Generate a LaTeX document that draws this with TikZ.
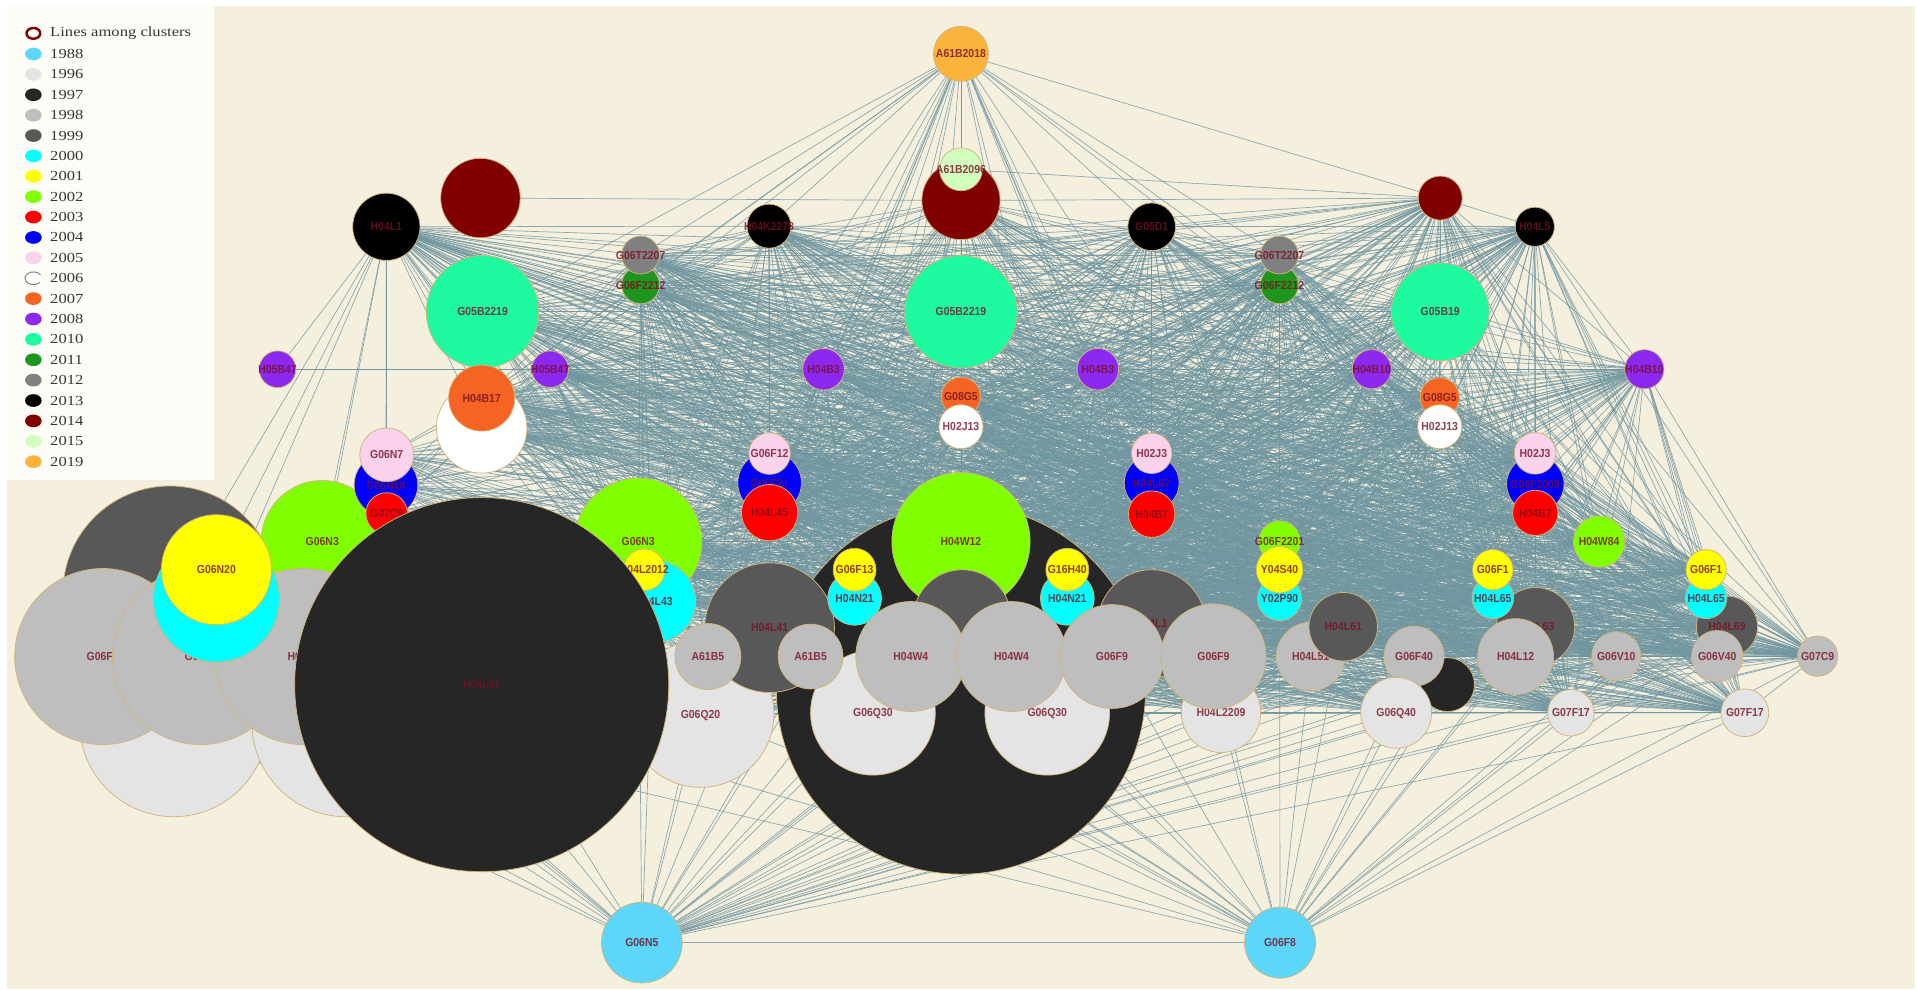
\documentclass[tikz,border=0pt]{standalone}
\usepackage{fontspec}
\setmainfont{Liberation Serif}
\newfontfamily\labfont[FakeStretch=0.9]{Liberation Sans}
\newfontfamily\legfont[FakeStretch=1.2]{Liberation Serif}

\pgfdeclarelayer{back}
\pgfdeclarelayer{edges}
\pgfsetlayers{back,edges,main}

% year colours
\definecolor{c1988}{RGB}{92,214,250}
\definecolor{c1996}{RGB}{228,228,228}
\definecolor{c1997}{RGB}{38,38,38}
\definecolor{c1998}{RGB}{190,190,190}
\definecolor{c1999}{RGB}{88,88,88}
\definecolor{c2000}{RGB}{0,255,255}
\definecolor{c2001}{RGB}{255,255,0}
\definecolor{c2002}{RGB}{128,255,0}
\definecolor{c2003}{RGB}{255,0,0}
\definecolor{c2004}{RGB}{0,0,255}
\definecolor{c2005}{RGB}{250,210,235}
\definecolor{c2006}{RGB}{255,255,255}
\definecolor{c2007}{RGB}{245,100,35}
\definecolor{c2008}{RGB}{140,40,240}
\definecolor{c2010}{RGB}{30,250,160}
\definecolor{c2011}{RGB}{30,150,30}
\definecolor{c2012}{RGB}{128,128,128}
\definecolor{c2013}{RGB}{0,0,0}
\definecolor{c2014}{RGB}{128,0,0}
\definecolor{c2015}{RGB}{210,255,190}
\definecolor{c2019}{RGB}{250,180,60}
% other colours
\definecolor{paper}{RGB}{245,239,222}
\definecolor{legbg}{RGB}{253,252,246}
\definecolor{legcol}{RGB}{55,55,55}
\definecolor{rimcol}{RGB}{210,180,120}
\definecolor{labcol}{RGB}{120,15,35}
\definecolor{linkcol}{RGB}{112,150,160}

% centred label of zero size, so it never widens a bubble
\newcommand\nodetext[1]{{\labfont\bfseries\fontsize{9.5}{10}\selectfont\makebox[0pt]{\raisebox{-0.36em}[0pt][0pt]{#1}}}}

\begin{document}
\begin{tikzpicture}[x=1pt,y=-1pt,
  bubble/.style={circle,inner sep=0pt,outer sep=0pt,draw=rimcol,line width=0.6pt,text=labcol,text opacity=0.8},
  link/.style={draw=linkcol,line width=0.55pt,draw opacity=0.8},
  legtext/.style={anchor=west,inner sep=0pt,text=legcol,font=\legfont\fontsize{11.3}{12}\selectfont}]

\useasboundingbox (0,0) rectangle (1568,809);
\begin{pgfonlayer}{back}
  \fill[white] (0,0) rectangle (1568,809);
  \fill[paper] (6,5) rectangle (1566,809);
\end{pgfonlayer}

% ---------- top row ----------
\node[bubble,fill=c2019,minimum size=45] (A61B2018) at (786,44) {\nodetext{A61B2018}};
\node[bubble,fill=c2014,minimum size=65] (darkredL) at (393,162) {};
\node[bubble,fill=c2014,minimum size=64] (darkredC) at (786,164) {};
\node[bubble,fill=c2015,minimum size=35] (A61B2096) at (786,138.5) {\nodetext{A61B2096}};
\node[bubble,fill=c2014,minimum size=36] (darkredR) at (1178,162) {};
\node[bubble,fill=c2013,minimum size=55] (H04L1) at (316,185.5) {\nodetext{H04L1}};
\node[bubble,fill=c2013,minimum size=36] (H04K2278) at (629,185) {\nodetext{H04K2278}};
\node[bubble,fill=c2013,minimum size=39] (G05D1) at (942,185.5) {\nodetext{G05D1}};
\node[bubble,fill=c2013,minimum size=32] (H04L5) at (1255.4,185.5) {\nodetext{H04L5}};

\node[bubble,fill=c2011,minimum size=31] (G06F2212a) at (524,233) {\nodetext{G06F2212}};
\node[bubble,fill=c2012,minimum size=31] (G06T2207a) at (524,208.6) {\nodetext{G06T2207}};
\node[bubble,fill=c2011,minimum size=31] (G06F2212b) at (1046.5,233) {\nodetext{G06F2212}};
\node[bubble,fill=c2012,minimum size=31] (G06T2207b) at (1046.5,208.6) {\nodetext{G06T2207}};

\node[bubble,fill=c2010,minimum size=92] (G05B2219L) at (394.7,255) {\nodetext{G05B2219}};
\node[bubble,fill=c2010,minimum size=92] (G05B2219c) at (786,255) {\nodetext{G05B2219}};
\node[bubble,fill=c2010,minimum size=80] (G05B19) at (1178,255) {\nodetext{G05B19}};

\node[bubble,fill=c2008,minimum size=30] (H05B47L) at (227,302) {\nodetext{H05B47}};
\node[bubble,fill=c2008,minimum size=30] (H05B47b) at (450,302) {\nodetext{H05B47}};
\node[bubble,fill=c2008,minimum size=34] (H04B3a) at (673.6,302) {\nodetext{H04B3}};
\node[bubble,fill=c2008,minimum size=34] (H04B3b) at (898,302) {\nodetext{H04B3}};
\node[bubble,fill=c2008,minimum size=32] (H04B10a) at (1122,302) {\nodetext{H04B10}};
\node[bubble,fill=c2008,minimum size=32] (H04B10R) at (1345,302) {\nodetext{H04B10}};

\node[bubble,fill=c2006,minimum size=74] (whiteL) at (394,350) {};
\node[bubble,fill=c2007,minimum size=54] (H04B17) at (394,325.6) {\nodetext{H04B17}};
\node[bubble,fill=c2007,minimum size=32] (G08G5c) at (786,324.5) {\nodetext{G08G5}};
\node[bubble,fill=c2006,minimum size=36] (H02J13c) at (786,349) {\nodetext{H02J13}};
\node[bubble,fill=c2007,minimum size=32] (G08G5r) at (1177.6,325) {\nodetext{G08G5}};
\node[bubble,fill=c2006,minimum size=36] (H02J13r) at (1177.6,349) {\nodetext{H02J13}};

% ---------- left cluster ----------
\node[bubble,fill=c1999,minimum size=175] (darkgrayL) at (139,485) {};
\node[bubble,fill=c1996,minimum size=154] (lgL1) at (142,591) {};
\node[bubble,fill=c1996,minimum size=154] (lgL2) at (283,591) {};
\node[bubble,fill=c2002,minimum size=100] (G06N3a) at (263.6,443) {\nodetext{G06N3}};
\node[bubble,fill=c1998,minimum size=144] (G06F1L) at (84,537) {\nodetext{G06F1}};
\node[bubble,fill=c1998,minimum size=144] (grayL2) at (164,537) {\nodetext{G06F3}};
\node[bubble,fill=c1998,minimum size=144] (grayL3) at (248,537) {\nodetext{H04L9}};
\node[bubble,fill=c2000,minimum size=103] (cyanL) at (177,490) {};
\node[bubble,fill=c2001,minimum size=90] (G06N20) at (177,466) {\nodetext{G06N20}};
\node[bubble,fill=c2004,minimum size=52] (blueA) at (315.7,396.7) {\nodetext{G06N10}};
\node[bubble,fill=c2005,minimum size=44] (G06N7) at (316.3,372) {\nodetext{G06N7}};
\node[bubble,fill=c2003,minimum size=34] (G07CL) at (316.3,420) {\nodetext{G07C9}};

% ---------- centre ----------
\node[bubble,fill=c1997,minimum size=302] (blackC) at (786,564) {};
\node[bubble,fill=c2002,minimum size=113] (H04W12) at (786,443) {\nodetext{H04W12}};
\node[bubble,fill=c1999,minimum size=80] (dgC) at (787,506) {};
\node[bubble,fill=c1999,minimum size=88] (dgR) at (942,510) {\nodetext{H04L1}};
\node[bubble,fill=c1996,minimum size=120] (G06Q20) at (573,584) {\nodetext{G06Q20}};
\node[bubble,fill=c1996,minimum size=102] (G06Q30a) at (714,583) {\nodetext{G06Q30}};
\node[bubble,fill=c1996,minimum size=102] (G06Q30b) at (856.6,583) {\nodetext{G06Q30}};
\node[bubble,fill=c1996,minimum size=65] (H04L2209) at (998.7,583) {\nodetext{H04L2209}};
\node[bubble,fill=c1999,minimum size=106] (H04L41) at (629.5,513.4) {\nodetext{H04L41}};
\node[bubble,fill=c2000,minimum size=44] (H04N21a) at (699,489.4) {\nodetext{H04N21}};
\node[bubble,fill=c2001,minimum size=35] (G06F13) at (699,466) {\nodetext{G06F13}};
\node[bubble,fill=c2000,minimum size=44] (H04N21b) at (873,489.4) {\nodetext{H04N21}};
\node[bubble,fill=c2001,minimum size=35] (G16H40) at (873,466) {\nodetext{G16H40}};
\node[bubble,fill=c1998,minimum size=54] (A61B5a) at (579,537) {\nodetext{A61B5}};
\node[bubble,fill=c1998,minimum size=53] (A61B5b) at (663,537) {\nodetext{A61B5}};
\node[bubble,fill=c1998,minimum size=90] (H04W4a) at (745,537) {\nodetext{H04W4}};
\node[bubble,fill=c1998,minimum size=90] (H04W4b) at (827.4,537) {\nodetext{H04W4}};
\node[bubble,fill=c1998,minimum size=85] (G06F9a) at (909.5,537) {\nodetext{G06F9}};
\node[bubble,fill=c1998,minimum size=86] (G06F9b) at (992.5,537) {\nodetext{G06F9}};

\node[bubble,fill=c2002,minimum size=104] (G06N3b) at (522,443) {\nodetext{G06N3}};
\node[bubble,fill=c2000,minimum size=68] (H04L43) at (535,492) {\nodetext{H04L43}};
\node[bubble,fill=c2001,minimum size=34] (H04L2012) at (527,466) {\nodetext{H04L2012}};

\node[bubble,fill=c1997,minimum size=306] (blackL) at (394,560) {\nodetext{H04L67}};

% ---------- stacked triples ----------
\node[bubble,fill=c2004,minimum size=52] (blueB) at (629.5,395) {\nodetext{G06F21}};
\node[bubble,fill=c2005,minimum size=34] (G06F12) at (629.5,371) {\nodetext{G06F12}};
\node[bubble,fill=c2003,minimum size=46] (H04L45) at (629.5,419.3) {\nodetext{H04L45}};
\node[bubble,fill=c2004,minimum size=45] (blueC) at (942,395) {\nodetext{H04L67}};
\node[bubble,fill=c2005,minimum size=33] (H02J3a) at (942,370.8) {\nodetext{H02J3}};
\node[bubble,fill=c2003,minimum size=38] (H04B7a) at (942,420.5) {\nodetext{H04B7}};
\node[bubble,fill=c2004,minimum size=47] (blueD) at (1255.8,396) {\nodetext{G06F2009}};
\node[bubble,fill=c2005,minimum size=34] (H02J3b) at (1255.6,370.8) {\nodetext{H02J3}};
\node[bubble,fill=c2003,minimum size=37] (H04B7b) at (1255.8,419.5) {\nodetext{H04B7}};

\node[bubble,fill=c2002,minimum size=34] (G06F2201) at (1046.6,443) {\nodetext{G06F2201}};
\node[bubble,fill=c2000,minimum size=36] (Y02P90) at (1046.6,489.6) {\nodetext{Y02P90}};
\node[bubble,fill=c2001,minimum size=38] (Y04S40) at (1046.6,466) {\nodetext{Y04S40}};
\node[bubble,fill=c2002,minimum size=42] (H04W84) at (1308,443) {\nodetext{H04W84}};

% ---------- right part ----------
\node[bubble,fill=c1998,minimum size=56] (H04L5x) at (1072,537) {\nodetext{H04L51}};
\node[bubble,fill=c1999,minimum size=56] (H04L61) at (1098.7,512.6) {\nodetext{H04L61}};
\node[bubble,fill=c1997,minimum size=44] (blackSm) at (1184,560) {};
\node[bubble,fill=c1998,minimum size=49] (G06F40) at (1156.6,536.7) {\nodetext{G06F40}};
\node[bubble,fill=c1996,minimum size=58] (G06Q40) at (1142,583) {\nodetext{G06Q40}};
\node[bubble,fill=c1999,minimum size=64] (H04L63) at (1256,512.6) {\nodetext{H04L63}};
\node[bubble,fill=c2000,minimum size=34] (H04L65a) at (1221,489) {\nodetext{H04L65}};
\node[bubble,fill=c2001,minimum size=33] (G06F1a) at (1221,466) {\nodetext{G06F1}};
\node[bubble,fill=c1998,minimum size=62] (H04L12) at (1239.7,537) {\nodetext{H04L12}};
\node[bubble,fill=c1998,minimum size=40] (G06V10) at (1322,536.7) {\nodetext{G06V10}};
\node[bubble,fill=c1999,minimum size=50] (H04L69) at (1412.6,512.6) {\nodetext{H04L69}};
\node[bubble,fill=c2000,minimum size=34] (H04L65b) at (1395.5,489) {\nodetext{H04L65}};
\node[bubble,fill=c2001,minimum size=33] (G06F1b) at (1395.5,466) {\nodetext{G06F1}};
\node[bubble,fill=c1998,minimum size=42] (G06V40) at (1404.6,536.7) {\nodetext{G06V40}};
\node[bubble,fill=c1998,minimum size=33] (G07C9) at (1486.7,536.7) {\nodetext{G07C9}};
\node[bubble,fill=c1996,minimum size=38] (G07F17a) at (1284.9,583) {\nodetext{G07F17}};
\node[bubble,fill=c1996,minimum size=39] (G07F17b) at (1427.2,583) {\nodetext{G07F17}};

% ---------- bottom ----------
\node[bubble,fill=c1988,minimum size=66] (G06N5) at (525,771) {\nodetext{G06N5}};
\node[bubble,fill=c1988,minimum size=58] (G06F8) at (1047,771) {\nodetext{G06F8}};

% ---------- links ----------
\def\corelist{G05B2219L,G06T2207a,G06F2212a,H05B47b,H04B3a,G05B2219c,H04B3b,G06T2207b,G06F2212b,H04B10a,G05B19,H04B17,whiteL,G08G5c,H02J13c,G08G5r,H02J13r,G06F12,blueB,H04L45,H02J3a,blueC,H04B7a,H02J3b,blueD,H04B7b,H04W84,G06N3b,H04L2012,H04L43,H04W12,dgC,G06F2201,Y04S40,Y02P90,G06F13,H04N21a,G16H40,H04N21b,G06F1a,H04L65a,G06F1b,H04L65b,H04L41,dgR,H04L61,H04L5x,H04L63,H04L69,A61B5a,A61B5b,H04W4a,H04W4b,G06F9a,G06F9b,G06F40,H04L12,G06V10,G06V40,G07C9,G06Q20,G06Q30a,G06Q30b,H04L2209,G06Q40,G07F17a,G07F17b}
\def\lowlist{H04L41,G06Q20,A61B5a,A61B5b,H04W4a,H04W12,G06F12,H04L45,G06N3b,H04L43,H02J3a,H04B7a,G06F9a,G06F9b,H04L2209,G06Q30a,G06F1a,H04L12,G07C9,G06V40}

\begin{pgfonlayer}{edges}
  % all clusters linked to each other
  \foreach \a [count=\i] in \corelist {
    \foreach \b [count=\j] in \corelist {
      \ifnum\j>\i \draw[link] (\a) -- (\b); \fi
    }
  }
  % hubs of the top row
  \foreach \h in {H04L1,H04K2278,G05D1,H04L5,darkredR,darkredC,H04B10R} {
    \foreach \b in \corelist { \draw[link] (\h) -- (\b); }
  }
  \foreach \b in {H05B47b,H04B17,G06T2207a,G06F2212a,H04B3a,H04B3b,G06T2207b,G06F2212b,H04B10a,G06F12,H04L45,H02J3a,H04B7a,G06N3b,H04L41,H04W12,G06F13,G16H40,A61B5a,A61B5b,H04W4a,G06F9a,G06F9b,G06F2201,H04K2278,G05D1,darkredR,G08G5c,G05B2219L,H04L43,G06Q20,H04L2209}
    { \draw[link] (A61B2018) -- (\b); }
  \draw[link] (darkredL) -- (darkredC);
  \draw[link] (darkredC) -- (darkredR);
  \draw[link] (A61B2096) -- (darkredR);
  \draw[link] (H04L1) -- (H04K2278);
  \draw[link] (H04K2278) -- (G05D1);
  \draw[link] (G05D1) -- (H04L5);
  \draw[link] (G05D1) -- (darkredR);
  \draw[link] (H04L5) -- (darkredR);
  \draw[link] (H04L5) -- (H04B10R);
  \draw[link] (darkredR) -- (H04B10R);
  % left cluster
  \foreach \b in {H05B47L,G06N7,blueA,G07CL,G06N3a,G06N20,grayL2,grayL3,darkgrayL}
    { \draw[link] (H04L1) -- (\b); }
  \foreach \b in {H05B47b,H04B3a,H04B10R} { \draw[link] (H05B47L) -- (\b); }
  \foreach \a in {G06N7,blueA,G07CL} {
    \foreach \b in \lowlist { \draw[link] (\a) -- (\b); }
    \foreach \b in {H04B17,whiteL,H05B47b,H04B3a,G08G5c,H04B3b} { \draw[link] (\a) -- (\b); }
  }
  \foreach \a in {G06N3a,G06N20,cyanL} {
    \foreach \b in \lowlist { \draw[link] (\a) -- (\b); }
  }
  % bottom hubs
  \draw[link] (G06N5) -- (G06F8);
  \foreach \b in {G06F1L,grayL2,grayL3,lgL1,lgL2,blackL,G06N20,cyanL,G06N3a,H04L41,A61B5a,A61B5b,G06Q20,G06Q30a,G06Q30b,H04W4a,H04W4b,G06F9a,G06F9b,H04L2209,dgR,H04L61,H04L5x,G06F40,G06Q40,blackSm,H04L12,H04L63,G06V10,G06V40,G07C9,G07F17a,G07F17b,H04L69,H04L43,G06N3b,H04W12,blackC,Y02P90,H04L65a,H04N21a,H04N21b}
    { \draw[link] (G06N5) -- (\b); }
  \foreach \b in {G06Q20,G06Q30a,G06Q30b,H04L41,A61B5a,H04W4a,H04W4b,G06F9a,G06F9b,H04L2209,G06Q40,G06F40,blackSm,H04L12,G06V10,G06V40,G07C9,G07F17a,G07F17b,H04L69,H04L63,H04L61,H04L5x,blackC,lgL2,grayL3,Y02P90,H04L65b,H04L65a,G06N3b,H04L43}
    { \draw[link] (G06F8) -- (\b); }
\end{pgfonlayer}

% ---------- legend ----------
\fill[legbg] (6,5) rectangle (175,393);
\draw[c2014,line width=2pt,fill=white] (27.3,27.3) ellipse [x radius=5.6,y radius=4.4];
\node[legtext] (legLines) at (40.9,27.3) {Lines among clusters};
\foreach \yr/\col [count=\k] in {1988/c1988,1996/c1996,1997/c1997,1998/c1998,1999/c1999,2000/c2000,2001/c2001,2002/c2002,2003/c2003,2004/c2004,2005/c2005,2006/c2006,2007/c2007,2008/c2008,2010/c2010,2011/c2011,2012/c2012,2013/c2013,2014/c2014,2015/c2015,2019/c2019} {
  \pgfmathsetmacro\yy{44.2+16.67*(\k-1)}
  \fill[\col] (27.3,\yy) ellipse [x radius=6.8,y radius=5.2];
  \node[legtext] (leg\k) at (40.9,\yy) {\yr};
}
\draw[gray,line width=0.8pt] (27.3,227.57) ++(40:6.8 and 5.2) arc[start angle=40,end angle=330,x radius=6.8,y radius=5.2];
\end{tikzpicture}
\end{document}
